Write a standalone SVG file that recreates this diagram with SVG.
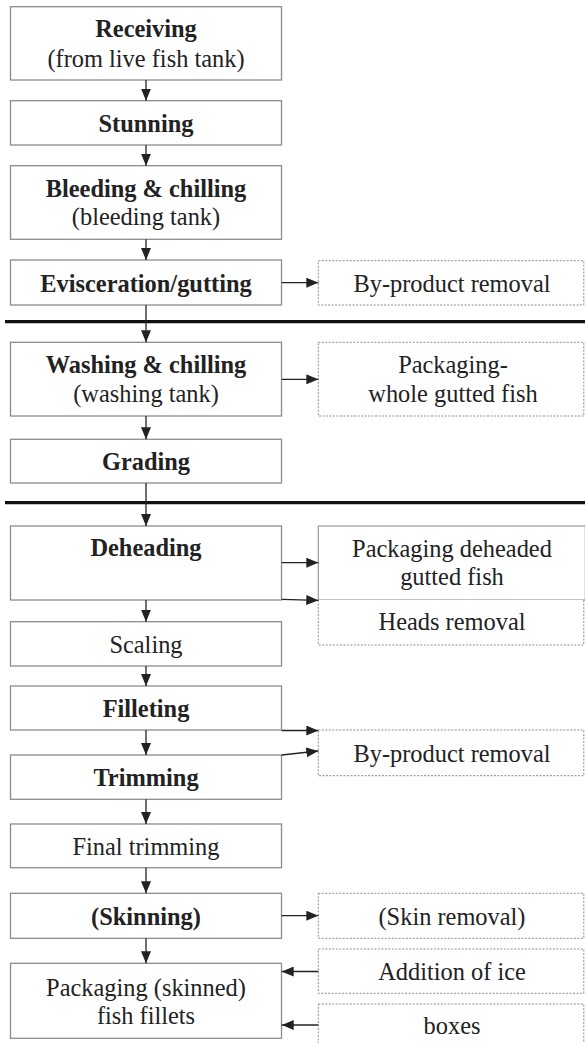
<svg xmlns="http://www.w3.org/2000/svg" width="585" height="1043" viewBox="0 0 585 1043" font-family="'Liberation Serif', 'Times New Roman', serif">
<defs>
<style>
.box{fill:#fff;stroke:#8c8c8c;stroke-width:1.3}
.dbox{fill:#fff;stroke:#8c8c8c;stroke-width:1;stroke-dasharray:2,1.5}
.sbox{fill:#fff;stroke:#9a9a9a;stroke-width:1.2}
text{font-family:'Liberation Serif','Times New Roman',serif;font-size:24.4px;fill:#222;text-anchor:middle}
.b{font-weight:bold}
.con line{stroke:#222;stroke-width:1.3;marker-end:url(#ah)}
.sep{stroke:#111;stroke-width:3.2}
</style>
<marker id="ah" markerUnits="userSpaceOnUse" markerWidth="12" markerHeight="10" refX="12" refY="5" orient="auto">
<path d="M0,0 L12,5 L0,10 Z" fill="#222"/>
</marker>
</defs>
<rect width="585" height="1043" fill="#fff"/>

<g id="separators">
<line class="sep" x1="5" y1="321.7" x2="585" y2="321.7"/>
<line class="sep" x1="5" y1="502.7" x2="585" y2="502.7"/>
</g>

<g id="receiving"><rect class="box" x="10.5" y="6.7" width="271" height="73.3"/>
<text class="b" x="146" y="37">Receiving</text><text x="146" y="67">(from live fish tank)</text></g>
<g id="stunning"><rect class="box" x="10.5" y="100.7" width="271" height="44.3"/>
<text class="b" x="146" y="131.7">Stunning</text></g>
<g id="bleeding"><rect class="box" x="10.5" y="165.7" width="271" height="73.6"/>
<text class="b" x="146" y="196.5">Bleeding &amp; chilling</text><text x="146" y="225">(bleeding tank)</text></g>
<g id="evisceration"><rect class="box" x="10.5" y="260" width="271" height="45"/>
<text class="b" x="146" y="291.5">Evisceration/gutting</text></g>
<g id="byproduct1"><rect class="dbox" x="318.3" y="260.7" width="265.5" height="44.3"/>
<text x="452" y="292">By-product removal</text></g>

<g id="washing"><rect class="box" x="10.5" y="342.3" width="271" height="73.7"/>
<text class="b" x="146" y="373">Washing &amp; chilling</text><text x="146" y="402">(washing tank)</text></g>
<g id="packwhole"><rect class="dbox" x="318.3" y="342.3" width="265.5" height="73.7"/>
<text x="453" y="372.7">Packaging-</text><text x="453" y="401.7">whole gutted fish</text></g>
<g id="grading"><rect class="box" x="10.5" y="439.3" width="271" height="43.7"/>
<text class="b" x="146" y="470">Grading</text></g>

<g id="deheading"><rect class="box" x="10.5" y="526" width="271" height="74"/>
<text class="b" x="146" y="556">Deheading</text></g>
<g id="packdeheaded"><rect class="sbox" x="318.3" y="526" width="267" height="74"/>
<text x="452" y="556.7">Packaging deheaded</text><text x="452" y="584.5">gutted fish</text></g>
<g id="heads"><path class="dbox" d="M318.3,600 V645 H583.8 V600" fill="none"/>
<text x="452" y="630">Heads removal</text></g>

<g id="scaling"><rect class="box" x="10.5" y="621.7" width="271" height="44.3"/>
<text x="146" y="652.7">Scaling</text></g>
<g id="filleting"><rect class="box" x="10.5" y="686" width="271" height="44"/>
<text class="b" x="146" y="717.3">Filleting</text></g>
<g id="trimming"><rect class="box" x="10.5" y="755" width="271" height="44.3"/>
<text class="b" x="146" y="785.7">Trimming</text></g>
<g id="byproduct2"><rect class="dbox" x="318.3" y="730" width="265.5" height="45.7"/>
<text x="452" y="762">By-product removal</text></g>
<g id="finaltrimming"><rect class="box" x="10.5" y="824" width="271" height="43.7"/>
<text x="146" y="855">Final trimming</text></g>
<g id="skinning"><rect class="box" x="10.5" y="893.3" width="271" height="45"/>
<text class="b" x="146" y="925">(Skinning)</text></g>
<g id="skinremoval"><rect class="dbox" x="318.3" y="893.3" width="265.5" height="45"/>
<text x="452" y="925">(Skin removal)</text></g>
<g id="packfillets"><rect class="box" x="10.5" y="963.3" width="271" height="75"/>
<text x="146" y="995.5">Packaging (skinned)</text><text x="146" y="1024">fish fillets</text></g>
<g id="ice"><rect class="dbox" x="318.3" y="949" width="265.5" height="44.3"/>
<text x="452" y="980">Addition of ice</text></g>
<g id="boxes"><rect class="dbox" x="318.3" y="1004" width="265.5" height="45"/>
<text x="452" y="1034">boxes</text></g>

<g id="connectors" class="con">
<line x1="146" y1="80" x2="146" y2="100.7"/>
<line x1="146" y1="145" x2="146" y2="165.7"/>
<line x1="146" y1="239.3" x2="146" y2="260"/>
<line x1="146" y1="305" x2="146" y2="342.3"/>
<line x1="146" y1="416" x2="146" y2="439.3"/>
<line x1="146" y1="483" x2="146" y2="526"/>
<line x1="146" y1="600" x2="146" y2="621.7"/>
<line x1="146" y1="666" x2="146" y2="686"/>
<line x1="146" y1="730" x2="146" y2="755"/>
<line x1="146" y1="799.3" x2="146" y2="824"/>
<line x1="146" y1="867.7" x2="146" y2="893.3"/>
<line x1="146" y1="938.3" x2="146" y2="963.3"/>
<line x1="281.7" y1="282.7" x2="318.3" y2="282.7"/>
<line x1="281.7" y1="379.3" x2="318.3" y2="379.3"/>
<line x1="281.7" y1="562.7" x2="318.3" y2="562.7"/>
<line x1="281.7" y1="599.3" x2="318.3" y2="600.3"/>
<line x1="281.7" y1="730.5" x2="318.3" y2="730.5"/>
<line x1="281.7" y1="755" x2="318.3" y2="751"/>
<line x1="281.7" y1="915.7" x2="318.3" y2="915.7"/>
<line x1="318.3" y1="971.5" x2="281.7" y2="971.5"/>
<line x1="318.3" y1="1025" x2="281.7" y2="1025"/>
</g>
</svg>
